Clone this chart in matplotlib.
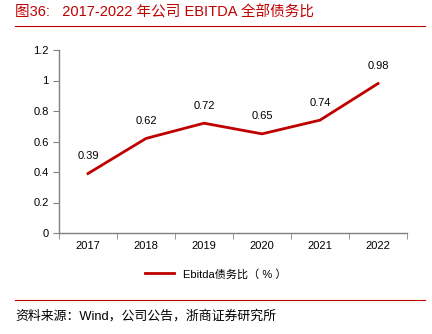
import numpy as np
import matplotlib
matplotlib.use("Agg")
import matplotlib.pyplot as plt
from matplotlib.lines import Line2D

plt.rcParams['font.family'] = ['Liberation Sans', 'Noto Sans CJK SC', 'DejaVu Sans']

years = ["2017", "2018", "2019", "2020", "2021", "2022"]
ratio = [0.39, 0.62, 0.72, 0.65, 0.74, 0.98]
yticks = [0, 0.2, 0.4, 0.6, 0.8, 1, 1.2]
ytick_labels = ["0", "0.2", "0.4", "0.6", "0.8", "1", "1.2"]

red = "#C00000"
grey = "#808080"

fig = plt.figure(figsize=(4.32, 3.34), dpi=100)
ax = fig.add_axes([59 / 432, 1 - 233 / 334, 348 / 432, 183 / 334])

x = np.arange(len(years))
ax.plot(x, ratio, color=red, linewidth=2)
for xi, v in zip(x, ratio):
    ax.annotate("{:.2f}".format(v), (xi, v), xytext=(0, 9), textcoords="offset points",
                ha="center", va="bottom", fontsize=8)

ax.set_xlim(-0.5, len(years) - 0.5)
ax.set_ylim(0, 1.2)
ax.set_yticks(yticks)
ax.set_yticklabels(ytick_labels, fontsize=8)
# labels at centres, tick marks at category boundaries
ax.set_xticks(x)
ax.set_xticklabels(years, fontsize=8)
ax.set_xticks(np.arange(-0.5, len(years)), minor=True)
ax.tick_params(axis="x", which="major", length=0, pad=6)
ax.tick_params(axis="x", which="minor", length=4, color=grey)
ax.tick_params(axis="y", length=4, color=grey)
for s in ["top", "right"]:
    ax.spines[s].set_visible(False)
for s in ["left", "bottom"]:
    ax.spines[s].set_color(grey)
    ax.spines[s].set_linewidth(1)

handle = Line2D([], [], color=red, linewidth=2)
fig.legend([handle], ["Ebitda债务比（ % ）"], loc="center", bbox_to_anchor=(0.5, 1 - 274 / 334),
           frameon=False, fontsize=8, handlelength=2.6)

# title and source
fig.text(15 / 432, 1 - 13 / 334, "图36:   2017-2022 年公司 EBITDA 全部债务比", color=red,
         fontsize=10.5, va="center", ha="left")
fig.add_artist(Line2D([15 / 432, 425 / 432], [1 - 26 / 334, 1 - 26 / 334], color=red, linewidth=0.8))
fig.add_artist(Line2D([15 / 432, 425 / 432], [1 - 300 / 334, 1 - 300 / 334], color=red, linewidth=0.8))
fig.text(15 / 432, 1 - 316 / 334, "资料来源：Wind，公司公告，浙商证券研究所", fontsize=9.3,
         va="center", ha="left")

fig.savefig("out.png", dpi=100)
